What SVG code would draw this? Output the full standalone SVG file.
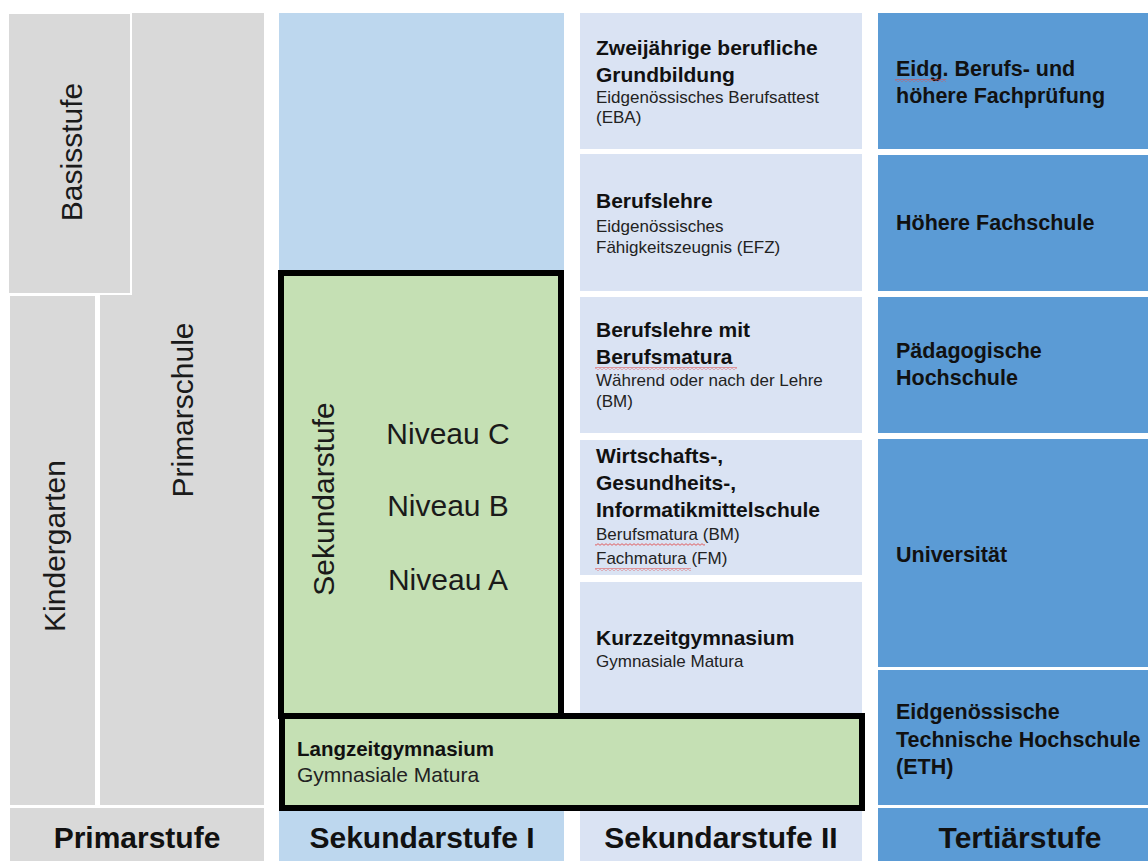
<svg xmlns="http://www.w3.org/2000/svg" width="1148" height="861" viewBox="0 0 1148 861">
<defs>
<pattern id="wave" width="4" height="3" patternUnits="userSpaceOnUse">
<path d="M0,2.3 L2,0.7 L4,2.3" fill="none" stroke="#e05050" stroke-width="0.9"/>
</pattern>
<style>
.gray{fill:#d9d9d9}
.s1{fill:#bdd7ee}
.s2{fill:#dae3f3}
.t3{fill:#5b9bd5}
.green{fill:#c5e0b4;stroke:#000;stroke-width:6}
.rot{font-family:"Liberation Sans",Arial,sans-serif;font-size:30px;fill:#1a1a1a;text-anchor:middle}
.niv{font-family:"Liberation Sans",Arial,sans-serif;font-size:30px;fill:#1a1a1a;text-anchor:middle}
.foot{font-family:"Liberation Sans",Arial,sans-serif;font-size:30px;font-weight:bold;fill:#111;text-anchor:middle}
.h{font-family:"Liberation Sans",Arial,sans-serif;font-size:21px;font-weight:bold;fill:#111}
.ht{font-family:"Liberation Sans",Arial,sans-serif;font-size:21.5px;font-weight:bold;fill:#111}
.sub{font-family:"Liberation Sans",Arial,sans-serif;font-size:17px;fill:#222}
.wv{fill:url(#wave)}
</style>
</defs>
<rect width="1148" height="861" fill="#fff"/>

<!-- Primarstufe -->
<g id="primarschule">
<rect class="gray" x="100" y="13" width="164" height="792"/>
<text class="rot" transform="translate(193,410) rotate(-90)">Primarschule</text>
</g>
<g id="basisstufe">
<rect class="gray" x="8" y="13" width="123" height="281" stroke="#fff" stroke-width="2"/>
<text class="rot" transform="translate(82,152) rotate(-90)">Basisstufe</text>
</g>
<g id="kindergarten">
<rect class="gray" x="10" y="296" width="85" height="509"/>
<text class="rot" transform="translate(65,546) rotate(-90)">Kindergarten</text>
</g>
<g id="label-primarstufe">
<rect class="gray" x="10" y="808" width="254" height="53"/>
<text class="foot" x="137" y="848">Primarstufe</text>
</g>

<!-- Sekundarstufe I -->
<g id="sek1-top">
<rect class="s1" x="279" y="13" width="285" height="262"/>
</g>
<g id="label-sek1">
<rect class="s1" x="279" y="808" width="285" height="53"/>
<text class="foot" x="422" y="848">Sekundarstufe I</text>
</g>

<!-- Sekundarstufe II -->
<g id="zweijaehrige">
<rect class="s2" x="580" y="13" width="282" height="136"/>
<text class="h" x="596" y="55">Zweijährige berufliche</text>
<text class="h" x="596" y="82">Grundbildung</text>
<text class="sub" x="596" y="103">Eidgenössisches Berufsattest</text>
<text class="sub" x="596" y="123">(EBA)</text>
</g>
<g id="berufslehre">
<rect class="s2" x="580" y="154" width="282" height="137"/>
<text class="h" x="596" y="208">Berufslehre</text>
<text class="sub" x="596" y="232">Eidgenössisches</text>
<text class="sub" x="596" y="253">Fähigkeitszeugnis (EFZ)</text>
</g>
<g id="berufsmatura">
<rect class="s2" x="580" y="297" width="282" height="136"/>
<text class="h" x="596" y="337">Berufslehre mit</text>
<text class="h" x="596" y="364">Berufsmatura</text>
<rect class="wv" x="595" y="367" width="142" height="3"/>
<text class="sub" x="596" y="386">Während oder nach der Lehre</text>
<text class="sub" x="596" y="407">(BM)</text>
</g>
<g id="mittelschule">
<rect class="s2" x="580" y="440" width="282" height="135"/>
<text class="h" x="596" y="463">Wirtschafts-,</text>
<text class="h" x="596" y="490">Gesundheits-,</text>
<text class="h" x="596" y="517">Informatikmittelschule</text>
<text class="sub" x="596" y="540">Berufsmatura (BM)</text>
<rect class="wv" x="595" y="543" width="110" height="3"/>
<text class="sub" x="596" y="564">Fachmatura (FM)</text>
<rect class="wv" x="595" y="568" width="96" height="3"/>
</g>
<g id="kurzzeitgymnasium">
<rect class="s2" x="580" y="582" width="282" height="226"/>
<text class="h" x="596" y="645">Kurzzeitgymnasium</text>
<text class="sub" x="596" y="667">Gymnasiale Matura</text>
</g>
<g id="label-sek2">
<rect class="s2" x="580" y="808" width="282" height="53"/>
<text class="foot" x="721" y="848">Sekundarstufe II</text>
</g>

<!-- Green boxes -->
<g id="sekundarstufe">
<rect class="green" x="281" y="273" width="280" height="443"/>
<text class="rot" transform="translate(334,499) rotate(-90)">Sekundarstufe</text>
<text class="niv" x="448" y="444">Niveau C</text>
<text class="niv" x="448" y="516">Niveau B</text>
<text class="niv" x="448" y="590">Niveau A</text>
</g>
<g id="langzeitgymnasium">
<rect class="green" x="282" y="716" width="580" height="92"/>
<text class="h" x="297" y="756" style="font-size:20.5px">Langzeitgymnasium</text>
<text class="sub" x="297" y="782" style="font-size:21px">Gymnasiale Matura</text>
</g>

<!-- Tertiärstufe -->
<g id="berufspruefung">
<rect class="t3" x="878" y="13" width="272" height="136"/>
<text class="ht" x="896" y="76">Eidg. Berufs- und</text>
<rect class="wv" x="895" y="79" width="51" height="3"/>
<text class="ht" x="896" y="103">höhere Fachprüfung</text>
</g>
<g id="fachschule">
<rect class="t3" x="878" y="155" width="272" height="136"/>
<text class="ht" x="896" y="230">Höhere Fachschule</text>
</g>
<g id="paedagogische">
<rect class="t3" x="878" y="297" width="272" height="136"/>
<text class="ht" x="896" y="358">Pädagogische</text>
<text class="ht" x="896" y="385">Hochschule</text>
</g>
<g id="universitaet">
<rect class="t3" x="878" y="439" width="272" height="228"/>
<text class="ht" x="896" y="562">Universität</text>
</g>
<g id="eth">
<rect class="t3" x="878" y="670" width="272" height="135"/>
<text class="ht" x="896" y="719">Eidgenössische</text>
<text class="ht" x="896" y="747">Technische Hochschule</text>
<text class="ht" x="896" y="774">(ETH)</text>
</g>
<g id="label-tertiaer">
<rect class="t3" x="878" y="808" width="272" height="53"/>
<text class="foot" x="1020" y="848">Tertiärstufe</text>
</g>

<g id="connectors"/>
</svg>
